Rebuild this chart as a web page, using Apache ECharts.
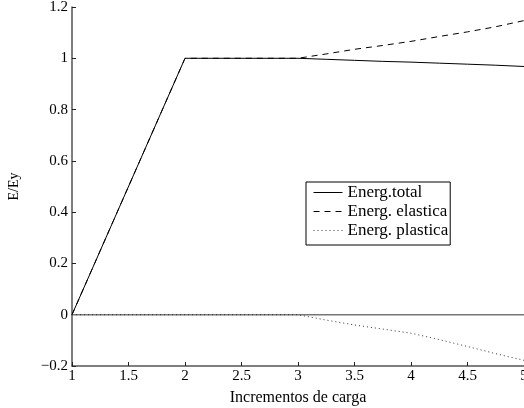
<!DOCTYPE html>
<html>
<head>
<meta charset="utf-8">
<script src="https://cdn.jsdelivr.net/npm/echarts@6/dist/echarts.min.js"></script>
<style>html,body{margin:0;padding:0;background:#fff;}#c{width:524px;height:408px;}</style>
</head>
<body>
<div id="c"></div>
<script>
const xValues      = [1, 2, 3, 3.25, 3.5, 3.75, 4, 4.25, 4.5, 4.75, 5];
const energTotal   = [0, 1, 1, 0.996, 0.992, 0.988, 0.985, 0.981, 0.977, 0.973, 0.968];
const energElastic = [0, 1, 1, 1.017, 1.035, 1.05, 1.066, 1.085, 1.103, 1.123, 1.147];
const energPlastic = [0, 0, 0, -0.021, -0.04, -0.056, -0.072, -0.097, -0.124, -0.152, -0.178];
const zeroLine     = [0, 0];
const zeroX        = [1, 5];
const seriesNames  = ['Energ.total', 'Energ. elastica', 'Energ. plastica'];

const font = 'Liberation Serif, Times New Roman, serif';
const pair = (xs, ys) => xs.map((x, i) => [x, ys[i]]);
const fmt = v => String(+(+v).toFixed(1)).replace('-', '\u2212');

const chart = echarts.init(document.getElementById('c'), null, {renderer: 'canvas'});
chart.setOption({
  animation: false,
  backgroundColor: '#fff',
  grid: {left: 72, right: 0, top: 7, bottom: 42, containLabel: false, outerBoundsMode: 'none'},
  xAxis: {
    type: 'value', min: 1, max: 5, interval: 0.5,
    name: 'Incrementos de carga', nameLocation: 'middle', nameGap: 24,
    nameTextStyle: {fontFamily: font, fontSize: 16, color: '#000'},
    axisLine: {onZero: false, lineStyle: {color: '#555', width: 1.5}},
    axisTick: {inside: true, length: 4, lineStyle: {color: '#222'}},
    axisLabel: {fontFamily: font, fontSize: 15, color: '#000', margin: 3, formatter: fmt,
                showMaxLabel: true, hideOverlap: false},
    splitLine: {show: false}
  },
  yAxis: {
    type: 'value', min: -0.2, max: 1.2, interval: 0.2,
    name: 'E/Ey', nameLocation: 'middle', nameGap: 51, nameRotate: 90,
    nameTextStyle: {fontFamily: font, fontSize: 14, color: '#000'},
    axisLine: {onZero: false, lineStyle: {color: '#555', width: 1.5}},
    axisTick: {inside: true, length: 4, lineStyle: {color: '#222'}},
    axisLabel: {fontFamily: font, fontSize: 15, color: '#000', margin: 4, formatter: fmt},
    splitLine: {show: false}
  },
  legend: {
    orient: 'vertical', left: 306, top: 182,
    data: seriesNames,
    itemWidth: 29, itemHeight: 10, itemGap: 2,
    itemStyle: {color: 'transparent', borderWidth: 0, opacity: 0},
    lineStyle: {width: 1},
    borderColor: '#000', borderWidth: 1, borderRadius: 0,
    padding: [2, 2, 6, 7],
    backgroundColor: '#fff',
    textStyle: {fontFamily: font, fontSize: 17, color: '#000'}
  },
  series: [
    {name: 'zero', type: 'line', data: pair(zeroX, zeroLine), symbol: 'none', silent: true,
     lineStyle: {color: '#777', width: 1.5}, z: 1},
    {name: seriesNames[0], type: 'line', data: pair(xValues, energTotal), symbol: 'none',
     color: '#000', lineStyle: {color: '#000', width: 1}},
    {name: seriesNames[1], type: 'line', data: pair(xValues, energElastic), symbol: 'none',
     color: '#000', lineStyle: {color: '#000', width: 1, type: [6, 5]}},
    {name: seriesNames[2], type: 'line', data: pair(xValues, energPlastic), symbol: 'none',
     color: '#333', lineStyle: {color: '#333', width: 1, type: [1, 3]}}
  ]
});
</script>
</body>
</html>
